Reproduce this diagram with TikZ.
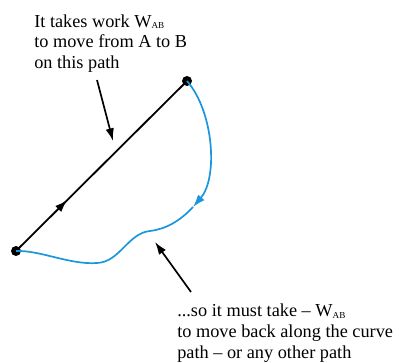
\documentclass[tikz,border=0pt]{standalone}
\usepackage{fontspec}
\setmainfont{Liberation Serif}
\usetikzlibrary{arrows.meta,decorations.markings,positioning}
\definecolor{curveblue}{RGB}{25,150,220}
\newcommand{\wsub}{\raisebox{-0.2ex}{\fontsize{6.5}{7}\selectfont AB}}

\begin{document}
\begin{tikzpicture}[x=0.025cm, y=-0.025cm,
    point/.style={circle, fill=black, inner sep=0pt, minimum size=0.25cm},
    label/.style={align=left, anchor=base west, inner sep=0pt, font=\fontsize{13}{14.6}\selectfont},
    straight/.style={line width=1.3pt, postaction={decorate}, decoration={markings, mark=at position 0.3 with {\arrow{Latex[length=9pt,width=6pt]}}}},
    curve/.style={curveblue, line width=1.2pt},
    pointer/.style={-{Latex[length=9pt,width=6pt]}, line width=1.2pt}
]

\useasboundingbox (0,0) rectangle (399,362);

% Points
\node[point] (A) at (16,251) {};
\node[point] (B) at (187,81) {};

% Straight path from A to B
\draw[straight] (A.center) -- (B.center);

% Curved path back from B to A
\coordinate (mid) at (193,207);
\draw[curve, -{Latex[length=9pt,width=6pt]}] (B.center) .. controls (214,112) and (218,178) .. (mid);
\draw[curve] (mid) .. controls (180,221) and (166,229) .. (150,231)
    .. controls (128,233) and (120,262) .. (97,263)
    .. controls (70,265) and (40,250) .. (A.center);

% Labels (anchored at the last line)
\node[label] (top) at (34,68.3) {It takes work W\wsub\\to move from A to B\\on this path};
\node[label] (bottom) at (177,358) {...so it must take -- W\wsub\\to move back along the curve\\path -- or any other path};

% Pointers
\coordinate (p1) at (97,80);
\coordinate (t1) at (113,141);
\coordinate (p2) at (191,292);
\coordinate (t2) at (155,242);
\draw[pointer] (p1) -- (t1);
\draw[pointer] (p2) -- (t2);

\end{tikzpicture}
\end{document}
